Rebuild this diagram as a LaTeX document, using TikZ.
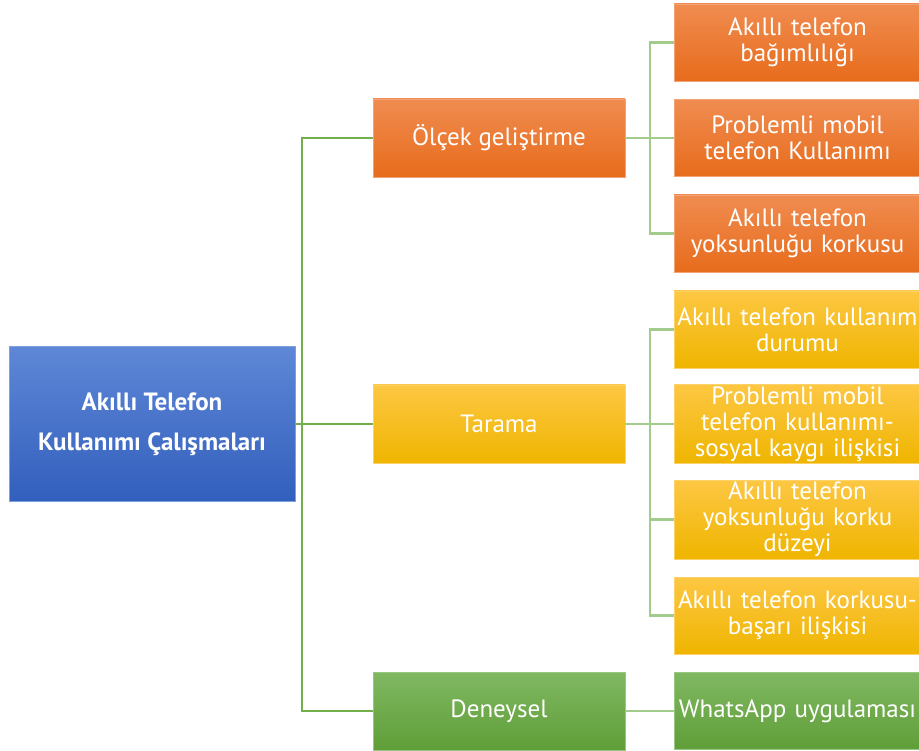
\documentclass[tikz,border=0pt]{standalone}
\usepackage{fontspec}
\setmainfont{PT Sans}
\definecolor{blueT}{HTML}{5E87D6}
\definecolor{blueB}{HTML}{325FBD}
\definecolor{orgT}{HTML}{F08C50}
\definecolor{orgB}{HTML}{E76C1C}
\definecolor{yelT}{HTML}{FDC743}
\definecolor{yelB}{HTML}{EFB500}
\definecolor{grnT}{HTML}{80B862}
\definecolor{grnB}{HTML}{5F9E38}
\definecolor{lineA}{HTML}{72AE4C}
\definecolor{lineB}{HTML}{A2CB8C}
\tikzset{
  basebox/.style={rectangle, inner sep=2pt, text=white, align=center,
    font=\fontsize{25}{26}\selectfont},
  rootbox/.style={basebox, minimum width=286pt, minimum height=155pt,
    top color=blueT, bottom color=blueB, draw=blueT!80!white, line width=0.6pt,
    font=\fontsize{25}{40}\selectfont\bfseries},
  obox/.style={basebox, top color=orgT, bottom color=orgB, draw=orgT!80!white, line width=0.6pt},
  ybox/.style={basebox, top color=yelT, bottom color=yelB, draw=yelT!80!white, line width=0.6pt},
  gbox/.style={basebox, top color=grnT, bottom color=grnB, draw=grnT!80!white, line width=0.6pt},
  midbox/.style={minimum width=252pt, minimum height=78pt},
  leafbox/.style={minimum width=247pt, minimum height=77pt, text width=250pt, inner xsep=-2pt},
  linkA/.style={draw=lineA, line width=2.6pt},
  linkB/.style={draw=lineB, line width=2.6pt},
}
\begin{document}
\begin{tikzpicture}[x=1pt,y=-1pt]
\useasboundingbox (0,0) rectangle (919,751);
\begin{scope}
\clip (0,0) rectangle (919,751);
\coordinate (j1) at (302,424);
\coordinate (j2) at (650,138);
\coordinate (j3) at (650,424);
\node[rootbox] (root) at (152,424) {Akıllı Telefon\\Kullanımı Çalışmaları};
\node[obox,midbox] (m1) at (499,138) {Ölçek geliştirme};
\node[ybox,midbox] (m2) at (499,424) {Tarama};
\node[gbox,midbox] (m3) at (499,711) {Deneysel};
\node[obox,leafbox] (r1) at (797.5,42.5) {Akıllı telefon\\bağımlılığı};
\node[obox,leafbox] (r2) at (797.5,138) {Problemli mobil\\telefon Kullanımı};
\node[obox,leafbox] (r3) at (797.5,233.5) {Akıllı telefon\\yoksunluğu korkusu};
\node[ybox,leafbox] (r4) at (797.5,329.5) {Akıllı telefon kullanım\\durumu};
\node[ybox,leafbox] (r5) at (797.5,424) {Problemli mobil\\telefon kullanımı-\\sosyal kaygı ilişkisi};
\node[ybox,leafbox] (r6) at (797.5,519.5) {Akıllı telefon\\yoksunluğu korku\\düzeyi};
\node[ybox,leafbox] (r7) at (797.5,615.5) {Akıllı telefon korkusu-\\başarı ilişkisi};
\node[gbox,leafbox] (r8) at (797.5,711) {WhatsApp uygulaması};
\draw[linkA] (root.east) -- (m2.west);
\draw[linkA] (m1.west) -| (j1) |- (m3.west);
\draw[linkB] (m1.east) -- (r2.west);
\draw[linkB] (r1.west) -| (j2) |- (r3.west);
\draw[linkB] (m2.east) -- (r5.west);
\draw[linkB] (r4.west) -| (j3) |- (r7.west);
\draw[linkB] (r6.west) -- (r6.west -| j3);
\draw[linkB] (m3.east) -- (r8.west);
\end{scope}
\end{tikzpicture}
\end{document}
